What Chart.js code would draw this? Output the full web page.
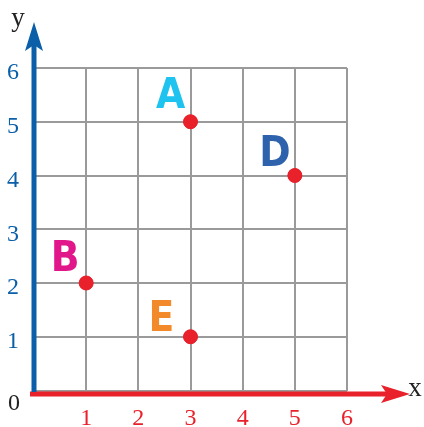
<!DOCTYPE html>
<html>
<head>
<meta charset="utf-8">
<script src="https://cdn.jsdelivr.net/npm/chart.js@4"></script>
<style>
  html, body { margin: 0; padding: 0; background: #fff; }
  #wrap { width: 424px; height: 427px; }
</style>
</head>
<body>
<div id="wrap"><canvas id="myChart" width="424" height="427"></canvas></div>
<script>
/*====== data =======*/
const names = ['A', 'D', 'B', 'E'];
const xs = [3, 5, 1, 3];
const ys = [5, 4, 2, 1];
const xTicks = [1, 2, 3, 4, 5, 6];
const yTicks = [1, 2, 3, 4, 5, 6];

/*====== styles =======*/
const nameColors = ['#1ec3f0', '#2f62ac', '#e0168a', '#f28a2a'];
const nameOffsets = [[-20, -25], [-20, -20], [-21, -23], [-29, -17]];
const blue = '#0b5fa8';
const red = '#e8212b';

const points = xs.map((x, i) => ({ x: x, y: ys[i] }));

/*====== axes with arrows, labels =======*/
const axesPlugin = {
  id: 'axesArrows',
  afterDatasetsDraw(chart) {
    const ctx = chart.ctx;
    const sx = chart.scales.x, sy = chart.scales.y;
    const x0 = sx.getPixelForValue(0), y0 = sy.getPixelForValue(0) + 3.5;
    ctx.save();
    // x axis
    ctx.strokeStyle = red; ctx.fillStyle = red; ctx.lineWidth = 5;
    ctx.beginPath(); ctx.moveTo(x0 - 4, y0); ctx.lineTo(388, y0); ctx.stroke();
    ctx.beginPath();
    ctx.moveTo(410, y0); ctx.lineTo(381, y0 - 9); ctx.lineTo(387, y0); ctx.lineTo(381, y0 + 9);
    ctx.closePath(); ctx.fill();
    // y axis
    ctx.strokeStyle = blue; ctx.fillStyle = blue;
    ctx.beginPath(); ctx.moveTo(x0, y0 - 2); ctx.lineTo(x0, 45); ctx.stroke();
    ctx.beginPath();
    ctx.moveTo(x0, 22); ctx.lineTo(x0 - 9, 51); ctx.lineTo(x0, 45); ctx.lineTo(x0 + 9, 51);
    ctx.closePath(); ctx.fill();
    // axis names and origin
    ctx.fillStyle = '#222';
    ctx.font = '27px "Liberation Serif", serif';
    ctx.textAlign = 'center'; ctx.textBaseline = 'middle';
    ctx.fillText('y', 18, 19);
    ctx.fillText('x', 415, 389);
    ctx.font = '24px "Liberation Serif", serif';
    ctx.fillText('0', 14, 404);
    // point names
    ctx.font = 'bold 42px "DejaVu Sans Condensed", "Liberation Sans Narrow", sans-serif';
    const meta = chart.getDatasetMeta(0);
    meta.data.forEach((el, i) => {
      ctx.fillStyle = nameColors[i];
      ctx.fillText(names[i], el.x + nameOffsets[i][0], el.y + nameOffsets[i][1]);
    });
    // redraw points on top of axes
    ctx.fillStyle = red;
    meta.data.forEach(el => {
      ctx.beginPath(); ctx.arc(el.x, el.y, 7, 0, Math.PI * 2); ctx.fill();
    });
    ctx.restore();
  }
};

const config = {
  type: 'scatter',
  data: {
    datasets: [{
      data: points,
      backgroundColor: red,
      borderColor: red,
      pointRadius: 7,
      pointHoverRadius: 7
    }]
  },
  options: {
    responsive: false,
    animation: false,
    events: [],
    layout: { padding: { left: 0, right: 77, top: 68, bottom: 0 } },
    plugins: { legend: { display: false }, tooltip: { enabled: false } },
    scales: {
      x: {
        type: 'linear', min: 0, max: 6,
        afterFit(s) { s.height = 36.5; },
        afterBuildTicks(s) { s.ticks = [0].concat(xTicks).map(v => ({ value: v })); },
        grid: { color: '#9a9a9a', lineWidth: 2, drawTicks: false },
        border: { display: false },
        ticks: {
          padding: 14, color: red,
          font: { family: '"Liberation Serif", serif', size: 24 },
          callback: v => v === 0 ? '' : String(v)
        }
      },
      y: {
        type: 'linear', min: 0, max: 6,
        afterFit(s) { s.width = 34; },
        afterBuildTicks(s) { s.ticks = [0].concat(yTicks).map(v => ({ value: v })); },
        grid: { color: '#9a9a9a', lineWidth: 2, drawTicks: false },
        border: { display: false },
        ticks: {
          padding: 15, color: blue, labelOffset: 5,
          font: { family: '"Liberation Serif", serif', size: 24 },
          callback: v => v === 0 ? '' : String(v)
        }
      }
    }
  },
  plugins: [axesPlugin]
};

const myChart = new Chart(document.getElementById('myChart'), config);
</script>
</body>
</html>
